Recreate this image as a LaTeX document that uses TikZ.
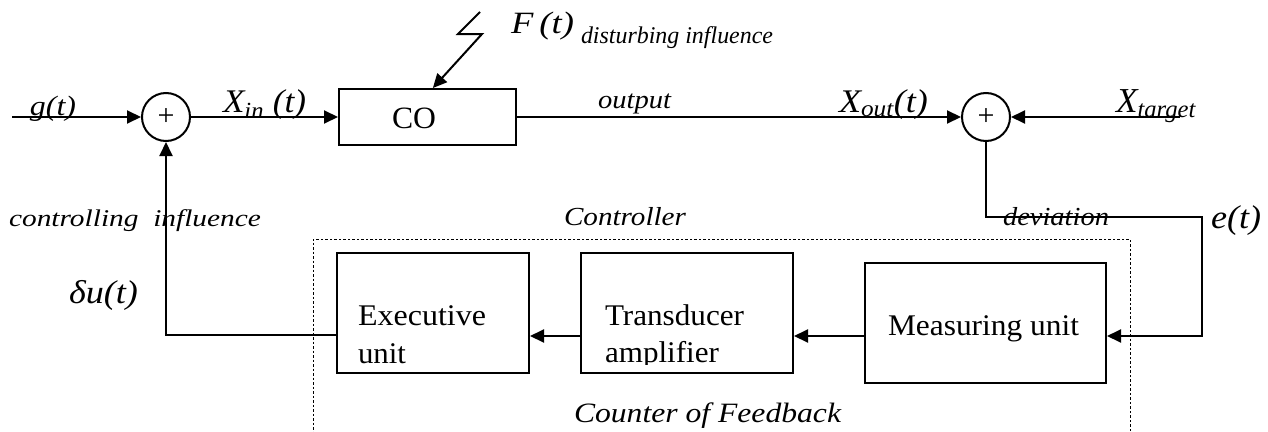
\documentclass[tikz,border=0pt]{standalone}
\usepackage{fontspec}
\setmainfont{Liberation Serif}
\usetikzlibrary{arrows.meta,calc}
\newcommand\fs[1]{\fontsize{#1}{#1}\selectfont}
\newcommand\fw[2]{\resizebox{#1}{\height}{#2}}
\begin{document}
\begin{tikzpicture}[x=1pt,y=-1pt,line width=2pt,
  box/.style={draw,rectangle,inner sep=0pt},
  sum/.style={draw,circle,minimum size=48pt,inner sep=0pt},
  lbl/.style={anchor=base west,inner sep=0pt},
  flow/.style={-{Triangle[length=14pt,width=13pt]}},
  cbox/.style={draw,line width=0.9pt,dash pattern=on 2.5pt off 2pt,inner sep=0pt}]
\clip (0,0) rectangle (1268,431);
\fill[white] (0,0) rectangle (1268,431);
% blocks
\node[cbox,minimum width=817pt,minimum height=212pt] (ctrl) at (721.5,345) {};
\node[box,minimum width=177pt,minimum height=56pt] (CO) at (427.5,117) {};
\node[sum] (s1) at (166,117) {\fs{30}\raisebox{-4pt}{+}};
\node[sum] (s2) at (986,117) {\fs{30}\raisebox{-4pt}{+}};
\node[box,minimum width=192pt,minimum height=120pt] (Ex) at (433,313) {};
\node[box,minimum width=212pt,minimum height=120pt] (Tr) at (687,313) {};
\node[box,minimum width=241pt,minimum height=120pt] (Me) at (985.5,323) {};
% coordinates
\coordinate (gin) at (12,117);
\coordinate (tgt) at (1180,117);
\coordinate (dev2) at (1202,217);
\coordinate (dev3) at (1202,336);
\coordinate (ay) at (0,336);
\coordinate (cl) at (166,335);
\coordinate (fz1) at (480,12);
\coordinate (fz2) at (458,34);
\coordinate (fz3) at (482,34);
% connectors
\draw[flow] (gin) -- (s1);
\draw[flow] (s1) -- (CO);
\draw[flow] (CO) -- (s2);
\draw[flow] (tgt) -- (s2);
\draw[flow] (s2.south) |- (dev2) -- (dev3) -- (Me.east |- dev3);
\draw[flow] (Me.west |- ay) -- (Tr.east |- ay);
\draw[flow] (Tr.west |- ay) -- (Ex.east |- ay);
\draw[flow] (Ex.west |- cl) -- (cl) -- (s1.south);
\draw[flow] (fz1) -- (fz2) -- (fz3) -- ($(CO.north west)!0.53!(CO.north east)$);
% labels
\node[lbl] (lg) at (29,115) {\fs{28}\itshape\fw{46pt}{g(t)}};
\node[lbl] (lxin) at (222,112) {\fs{33}\itshape\fw{83pt}{X\textsubscript{in} (t)}};
\node[lbl] (lco) at (391,128) {\fs{31}\fw{44pt}{CO}};
\node[lbl] (lF) at (510,33) {\fs{31}\itshape\fw{63pt}{F\,(t)}};
\node[lbl] (ldist) at (580,43) {\fs{24}\itshape\fw{192pt}{disturbing influence}};
\node[lbl] (lout) at (597,108) {\fs{26}\itshape\fw{73pt}{output}};
\node[lbl] (lxout) at (838,112) {\fs{33}\itshape\fw{89pt}{X\textsubscript{out}(t)}};
\node[lbl] (lxt) at (1115,112) {\fs{35}\itshape\fw{80pt}{X\textsubscript{target}}};
\node[lbl] (lctl) at (8,226) {\fs{24}\itshape\fw{252pt}{controlling\ \ influence}};
\node[lbl] (lcon) at (563,225) {\fs{26}\itshape\fw{122pt}{Controller}};
\node[lbl] (ldev) at (1002,225) {\fs{26}\itshape\fw{106pt}{deviation}};
\node[lbl] (le) at (1210,228) {\fs{33}\itshape\fw{50pt}{e(t)}};
\node[lbl] (ldu) at (68,303) {\fs{33}\itshape\fw{69pt}{δu(t)}};
\node[lbl] (lcf) at (573,422) {\fs{28}\itshape\fw{267pt}{Counter of Feedback}};
\node[lbl] (lme) at (887,335) {\fs{30}\fw{191pt}{Measuring unit}};
\begin{scope}
\clip (330,245) rectangle (800,364);
\node[lbl] (lex1) at (357,325) {\fs{30}\fw{128pt}{Executive}};
\node[lbl] (lex2) at (357,363) {\fs{30}\fw{48pt}{unit}};
\node[lbl] (ltr1) at (604,325) {\fs{30}\fw{139pt}{Transducer}};
\node[lbl] (ltr2) at (604,362) {\fs{30}\fw{114pt}{amplifier}};
\end{scope}
\end{tikzpicture}
\end{document}
